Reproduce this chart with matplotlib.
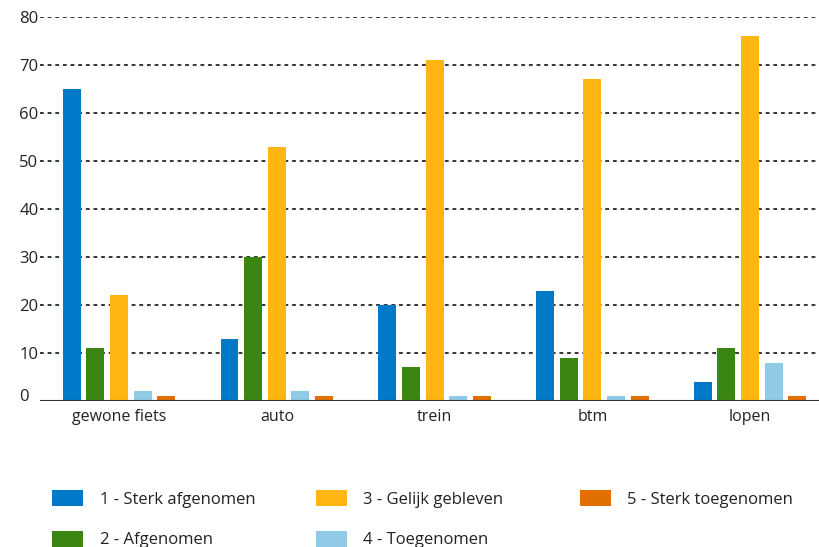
import numpy as np
import matplotlib.pyplot as plt
from matplotlib.patches import Patch
from matplotlib.transforms import ScaledTranslation

plt.rcParams['font.family'] = ['Open Sans', 'DejaVu Sans']

## ================= DATA ================= ##
categories = ["gewone fiets", "auto", "trein", "btm", "lopen"]
series_labels = ["1 - Sterk afgenomen", "2 - Afgenomen", "3 - Gelijk gebleven",
                 "4 - Toegenomen", "5 - Sterk toegenomen"]
sterk_afgenomen = [65, 13, 20, 23, 4]
afgenomen = [11, 30, 7, 9, 11]
gelijk = [22, 53, 71, 67, 76]
toegenomen = [2, 2, 1, 1, 8]
sterk_toegenomen = [1, 1, 1, 1, 1]
colors = ["#0079c8", "#3b8612", "#ffb612", "#8fcae7", "#e17000"]
y_ticks = [0, 10, 20, 30, 40, 50, 60, 70, 80]

series = [sterk_afgenomen, afgenomen, gelijk, toegenomen, sterk_toegenomen]

## ================= PLOT ================= ##
fig = plt.figure(figsize=(8.2, 5.47), dpi=100)
ax = fig.add_axes([0.049, 1 - 401 / 547, 0.951, (401 - 17) / 547])

x = np.arange(len(categories))
width = 0.114
step = 0.15
for i, (vals, col) in enumerate(zip(series, colors)):
    ax.bar(x + (i - 2) * step, vals, width, color=col, zorder=3)

ax.set_xlim(-0.5, 4.443)
ax.set_ylim(0, 80)
ax.set_yticks(y_ticks)
ax.yaxis.grid(True, color="black", linestyle=(0, (2.5, 2.5)), linewidth=1.1, zorder=0)
ax.axhline(0, color="#333333", linewidth=1.5, zorder=4)
for s in ax.spines.values():
    s.set_visible(False)
ax.tick_params(axis="both", length=0, labelsize=11.5, colors="#222222")
ax.tick_params(axis="y", labelsize=12, pad=15)
for lab in ax.get_yticklabels():
    lab.set_horizontalalignment("left")
# the 0 label sits a bit above the base line
ylabs = ax.get_yticklabels()
ylabs[0].set_transform(ylabs[0].get_transform() + ScaledTranslation(0, 6 / 100, fig.dpi_scale_trans))
ax.set_xticks(x)
ax.set_xticklabels(categories)
ax.tick_params(axis="x", pad=6)
ax.set_axisbelow(True)

# legend: three fixed columns
cols = [[0, 1], [2, 3], [4]]
col_x = [52 / 820, 316 / 820, 580 / 820]
for idxs, cx in zip(cols, col_x):
    handles = [Patch(facecolor=colors[k], edgecolor="none") for k in idxs]
    labels = [series_labels[k] for k in idxs]
    leg = fig.legend(handles, labels, loc="upper left", bbox_to_anchor=(cx, 1 - 490 / 547),
                     frameon=False, fontsize=12, handlelength=1.85, handleheight=1.07,
                     handletextpad=1.0, labelspacing=1.4, borderaxespad=0, borderpad=0)
    for t in leg.get_texts():
        t.set_color("#222222")

fig.savefig("out.png", dpi=100)
